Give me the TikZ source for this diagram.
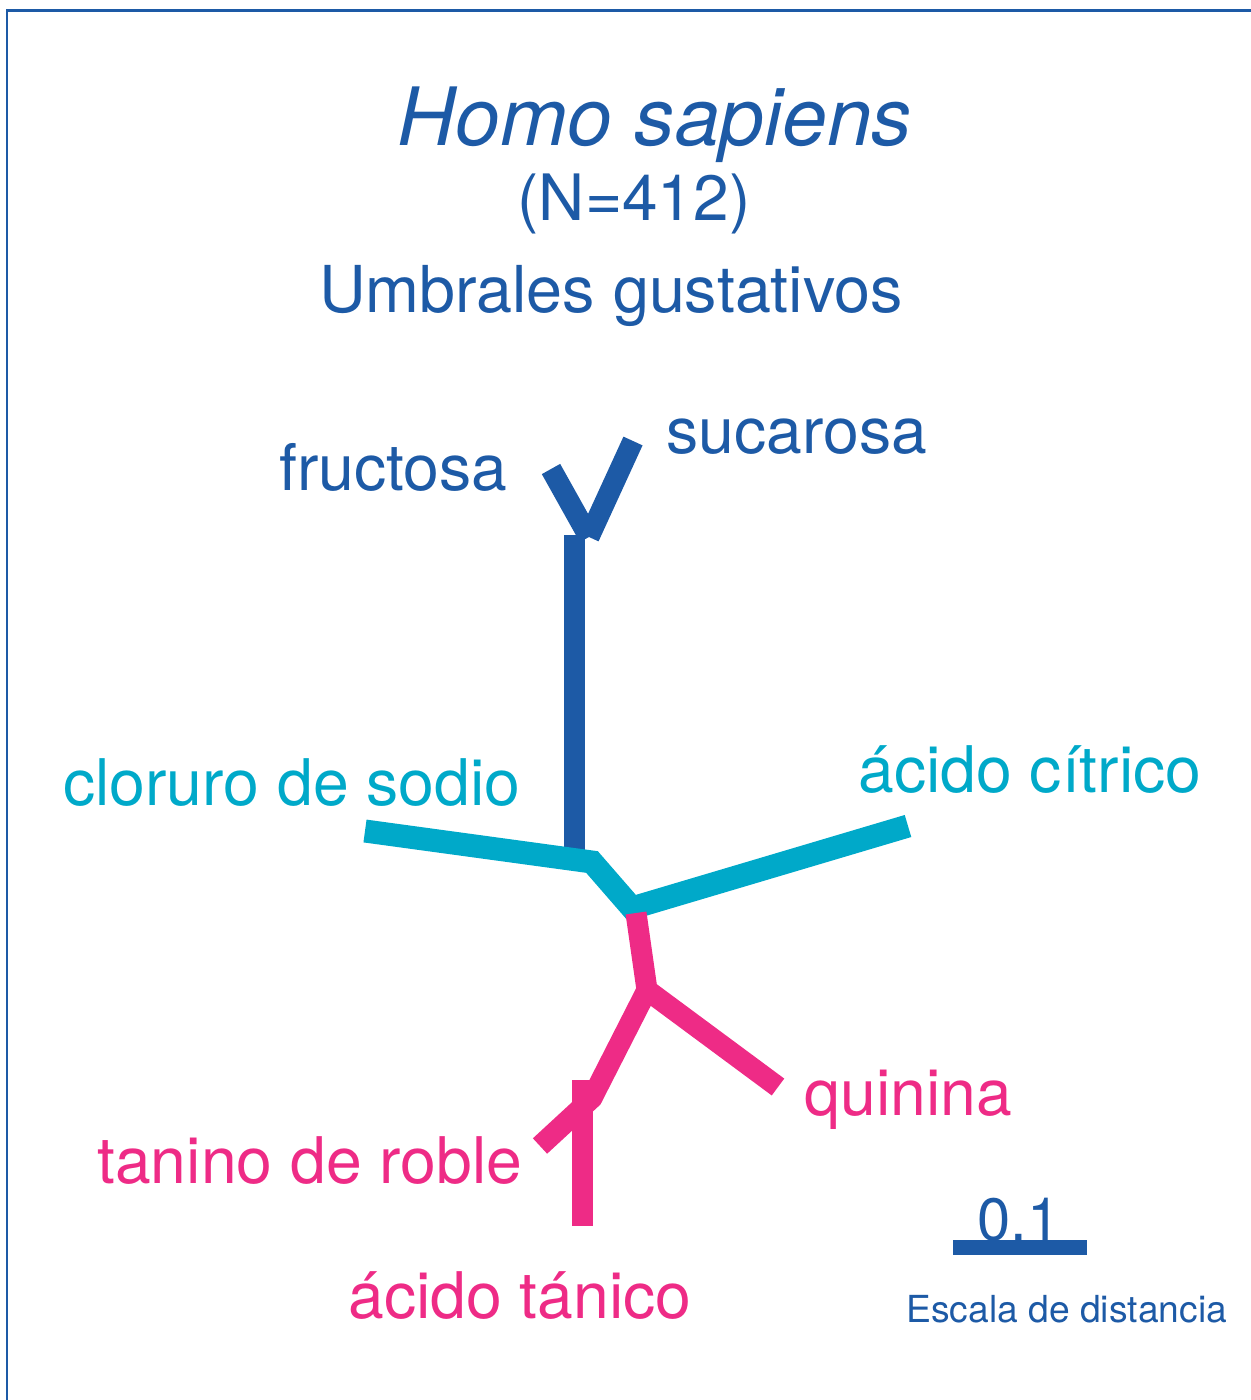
\documentclass[tikz,border=0pt]{standalone}
\usepackage{fontspec}
\setmainfont{TeX Gyre Heros}
\usepackage{xcolor}
\usetikzlibrary{positioning,calc}

\definecolor{treeblue}{HTML}{1D5AA6}
\definecolor{treecyan}{HTML}{00A9C9}
\definecolor{treepink}{HTML}{EE2B86}

\begin{document}
\begin{tikzpicture}[
    x=0.02cm, y=-0.02cm,
    leaf/.style={anchor=base west, inner sep=0pt, font=\fontsize{36.6}{40}\selectfont},
    heading/.style={anchor=base, inner sep=0pt, text=treeblue},
    branch/.style={line width=0.42cm},
]
\useasboundingbox (0,0) rectangle (1251,1400);

% Frame (top and left only)
\draw[treeblue, line width=0.06cm] (7,1400) -- (7,10.5) -- (1251,10.5);

% Title
\node[heading, font=\fontsize{45.8}{54}\selectfont\itshape] (species) at (655,145) {Homo sapiens};
\node[heading, font=\fontsize{36.4}{40}\selectfont] (count) at (634,220) {(N=412)};
\node[heading, font=\fontsize{36.8}{40}\selectfont] (subject) at (611,312) {Umbrales gustativos};

% Tree points
\coordinate (sweet) at (589,537);
\coordinate (trunktop) at (574,535);
\coordinate (fruTip) at (551,469);
\coordinate (sucTip) at (633,441);
\coordinate (trunkbot) at (574,852);
\coordinate (naclTip) at (365,831);
\coordinate (kink) at (592,862);
\coordinate (sour) at (632,908);
\coordinate (citTip) at (908,826);
\coordinate (pinktop) at (636,913);
\coordinate (bitter) at (647,990);
\coordinate (quiTip) at (778,1087);
\coordinate (tannin) at (592,1098);
\coordinate (robTip) at (540,1146);
\coordinate (tanTop) at (582,1080);
\coordinate (tanTip) at (582,1226);

% Sweet branches
\draw[branch, treeblue] (trunkbot) -- (trunktop);
\draw[branch, treeblue] (sweet) -- (fruTip);
\draw[branch, treeblue] (sweet) -- (sucTip);

% Salty / sour branches
\draw[branch, treecyan, line width=0.46cm] (naclTip) -- (kink) -- (sour) -- (citTip);

% Bitter / astringent branches
\draw[branch, treepink] (pinktop) -- (bitter) -- (quiTip);
\draw[branch, treepink] (bitter) -- (tannin) -- (robTip);
\draw[branch, treepink] (tanTop) -- (tanTip);

% Leaf labels
\node[leaf, text=treeblue] (fructosa) at (279,490) {fructosa};
\node[leaf, text=treeblue] (sucarosa) at (666,453) {sucarosa};
\node[leaf, text=treecyan] (cloruro) at (63,805) {cloruro de sodio};
\node[leaf, text=treecyan] (citrico) at (858,792) {ácido cítrico};
\node[leaf, text=treepink] (quinina) at (804,1115) {quinina};
\node[leaf, text=treepink] (roble) at (97,1183) {tanino de roble};
\node[leaf, text=treepink] (tanico) at (348,1318) {ácido tánico};

% Scale bar
\coordinate (barL) at (953,1247);
\coordinate (barR) at (1087,1247);
\draw[treeblue, line width=0.3cm] (barL) -- (barR);
\node[leaf, text=treeblue, font=\fontsize{34}{40}\selectfont] (barval) at (977,1240) {0.1};
\node[leaf, text=treeblue, font=\fontsize{21.2}{25}\selectfont] (barname) at (906,1322) {Escala de distancia};

\end{tikzpicture}
\end{document}
